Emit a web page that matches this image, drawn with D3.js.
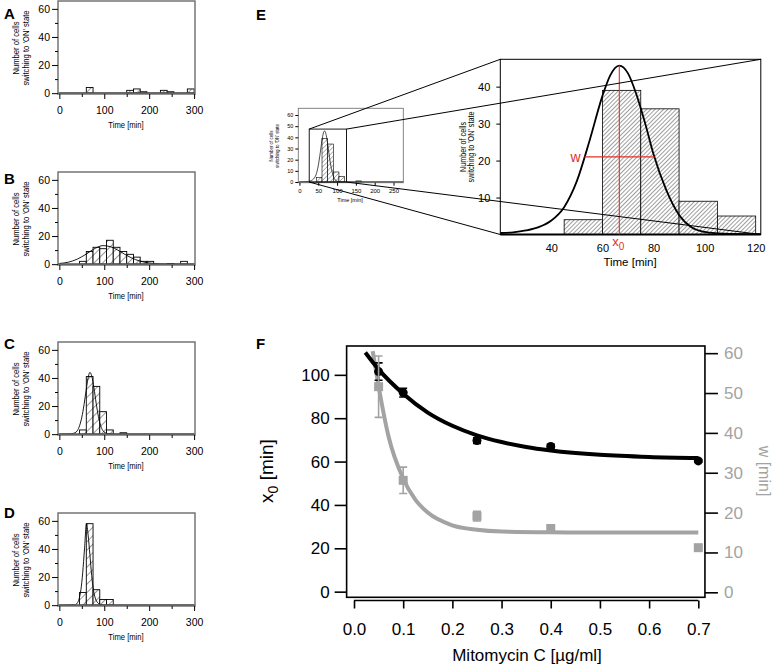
<!DOCTYPE html>
<html><head><meta charset="utf-8">
<script src="https://cdn.jsdelivr.net/npm/d3@7"></script>
<style>
body{margin:0;background:#fff}
svg{display:block}
text{font-family:"Liberation Sans",Arial,Helvetica,sans-serif}
</style>
</head><body>
<svg id="c" width="777" height="664"></svg>
<script>
// ---------------- DATA ----------------
const binWidth = 15;
const timeTicks = [0, 100, 200, 300];
const timeMinor = [50, 150, 250];
const countTicks = [0, 20, 40, 60];
const countMinor = [10, 30, 50];

const histStartA = [60, 150, 165, 180, 225, 240, 285];
const histCountA = [4, 2, 3, 1, 2, 1, 3];
const fitTimeA = [0, 300];
const fitCountA = [0, 0];

const histStartB = [45, 60, 75, 90, 105, 120, 135, 150, 165, 180, 195, 240, 270];
const histCountB = [2, 9, 12, 11, 17, 12, 9, 7, 5, 2, 2, 0.5, 2];
const fitTimeB = [0, 20, 40, 60, 80, 97, 115, 130, 150, 170, 190, 210, 240, 300];
const fitCountB = [0.5, 1.4, 3.6, 7.2, 11.3, 13.2, 12.3, 10.0, 6.2, 3.2, 1.4, 0.5, 0.1, 0];

const histStartC = [45, 60, 75, 90, 105, 135];
const histCountC = [3, 41, 34, 16, 3, 1];
const fitTimeC = [0, 25, 35, 40, 45, 50, 55, 60, 65, 68, 72, 77, 82, 87, 92, 97, 102, 110, 120, 300];
const fitCountC = [0, 0.2, 1.0, 2.5, 6, 12, 21, 32, 41.5, 44, 41.5, 33, 22, 12.5, 6, 2.5, 1, 0.3, 0, 0];

const histStartD = [45, 60, 75, 90, 105];
const histCountD = [9, 58, 11, 4, 4];
const fitTimeD = [0, 34, 40, 44, 48, 52, 56, 60.5, 64, 68, 72, 76, 80, 86, 92, 100, 300];
const fitCountD = [0, 0.3, 1.5, 4.5, 11, 23, 40, 58, 50, 36, 21, 10.5, 5, 1.5, 0.4, 0, 0];

const histStartE = [45, 60, 75, 90, 105, 150];
const histCountE = [4, 39, 34, 9, 5, 1];
const fitTimeE = [0, 20, 25, 30, 35, 40, 45, 50, 55, 60, 63, 66.6, 70, 73, 76.6, 80, 85, 90, 95, 100, 105, 110, 122, 160, 276];
const fitCountE = [0.1, 0.4, 0.6, 1.1, 2.0, 3.8, 7.4, 14.5, 25.5, 37.5, 43, 45.7, 43.6, 38.5, 30.4, 21.7, 12, 5.3, 1.9, 0.7, 0.3, 0.15, 0.1, 0.05, 0.05];
const peakE = [66.6, 45.7];        // x0 marker (time, count)
const widthE = [53, 80.4, 21];     // w marker (from, to, at count)
const eMainTicksX = [40, 60, 80, 100, 120];
const eMainTicksY = [10, 20, 30, 40];
const eInsetTicksX = [0, 50, 100, 150, 200, 250];
const eInsetTicksY = [0, 10, 20, 30, 40, 50, 60];

const mitoConc = [0.05, 0.1, 0.25, 0.4, 0.7];
const x0Mean = [101.5, 91.8, 69.7, 67.0, 60.3];
const x0Err = [4.0, 2.0, 1.3, 1.0, 0.6];
const wMean = [51.6, 28.1, 19.1, 16.0, 11.2];
const wErr = [7.7, 3.3, 1.2, 0.9, 0.5];
const x0FitConc = [0.023, 0.05, 0.1, 0.15, 0.2, 0.25, 0.3, 0.35, 0.4, 0.5, 0.6, 0.7];
const x0FitVal = [110.3, 102.5, 91.3, 82.6, 76.5, 72.1, 69.0, 66.7, 65.1, 63.1, 62.1, 61.6];
const wFitConc = [0.038, 0.05, 0.07, 0.1, 0.125, 0.15, 0.2, 0.25, 0.3, 0.4, 0.5, 0.7];
const wFitVal = [60.5, 51.7, 39.2, 28.5, 23.2, 20.0, 16.8, 15.7, 15.25, 15.05, 15.0, 15.0];
const concTicks = [0, 0.1, 0.2, 0.3, 0.4, 0.5, 0.6, 0.7];
const x0Ticks = [0, 20, 40, 60, 80, 100];
const wTicks = [0, 10, 20, 30, 40, 50, 60];

// ---------------- DRAW ----------------
const svg = d3.select("#c");
const FONT = '"Liberation Sans",Arial,Helvetica,sans-serif';
const RED = "#e0312b";
const GRAY = "#a3a3a3";

const defs = svg.append("defs");
function hatch(id, size, sw) {
  const p = defs.append("pattern").attr("id", id).attr("patternUnits", "userSpaceOnUse")
    .attr("width", size).attr("height", size).attr("patternTransform", "rotate(45)");
  p.append("rect").attr("width", size).attr("height", size).attr("fill", "#fff");
  p.append("line").attr("x1", 0).attr("y1", 0).attr("x2", 0).attr("y2", size)
    .attr("stroke", "#000").attr("stroke-width", sw);
}
hatch("hS", 6, 0.8);
hatch("hE", 3, 0.75);
hatch("hI", 3.2, 0.55);

function styleAxis(g, size, color) {
  g.select(".domain").remove();
  g.selectAll("text").attr("font-family", FONT).attr("font-size", size).attr("fill", color || "#000");
  g.selectAll("line").attr("stroke", color || "#000");
}

function histogram(g, x, y, starts, counts, fill, sw) {
  g.append("g").selectAll("rect").data(d3.zip(starts, counts)).join("rect")
    .attr("x", d => x(d[0])).attr("width", d => x(d[0] + binWidth) - x(d[0]))
    .attr("y", d => y(d[1])).attr("height", d => y(0) - y(d[1]))
    .attr("fill", fill).attr("stroke", "#000").attr("stroke-width", sw);
}
function fitLine(g, x, y, xs, ys, sw, color) {
  g.append("path").datum(d3.zip(xs, ys))
    .attr("d", d3.line().x(d => x(d[0])).y(d => y(d[1])).curve(d3.curveMonotoneX))
    .attr("fill", "none").attr("stroke", color || "#000").attr("stroke-width", sw);
}
function twoLineLabel(g, cx, cy, size, gap, sx) {
  const t = g.append("text").attr("transform", `translate(${cx},${cy}) rotate(-90) scale(${sx},1)`)
    .attr("text-anchor", "middle").attr("font-size", size);
  t.append("tspan").attr("x", 0).attr("y", 0).text("Number of cells");
  t.append("tspan").attr("x", 0).attr("y", gap).text("switching to 'ON' state");
}

// ---- Panels A-D ----
const small = [
  {lab: "A", top: 1, ly: 13, s: histStartA, c: histCountA, ft: fitTimeA, fc: fitCountA},
  {lab: "B", top: 172, ly: 178, s: histStartB, c: histCountB, ft: fitTimeB, fc: fitCountB},
  {lab: "C", top: 342, ly: 343, s: histStartC, c: histCountC, ft: fitTimeC, fc: fitCountC},
  {lab: "D", top: 513, ly: 512, s: histStartD, c: histCountD, ft: fitTimeD, fc: fitCountD}
];
small.forEach(p => {
  const g = svg.append("g");
  const x = d3.scaleLinear().domain([-3, 302]).range([58, 195]);
  const y = d3.scaleLinear().domain([-0.6, 65.6]).range([p.top + 93, p.top]);
  histogram(g, x, y, p.s, p.c, "url(#hS)", 0.9);
  fitLine(g, x, y, p.ft, p.fc, 0.9);
  g.append("line").attr("x1", 58).attr("x2", 195).attr("y1", y(0)).attr("y2", y(0))
    .attr("stroke", "#555").attr("stroke-width", 1.6);
  g.append("rect").attr("x", 58).attr("y", p.top).attr("width", 137).attr("height", 93)
    .attr("fill", "none").attr("stroke", "#6b6b6b").attr("stroke-width", 1.4);
  const ya = g.append("g").attr("transform", "translate(58,0)")
    .call(d3.axisLeft(y).tickValues(countTicks).tickSize(6).tickPadding(2));
  styleAxis(ya, 10.5);
  const ym = g.append("g").attr("transform", "translate(58,0)")
    .call(d3.axisLeft(y).tickValues(countMinor).tickSize(3).tickFormat(""));
  styleAxis(ym, 10.5);
  const xa = g.append("g").attr("transform", `translate(0,${p.top + 93})`)
    .call(d3.axisBottom(x).tickValues(timeTicks).tickSize(5).tickPadding(8));
  styleAxis(xa, 10.5);
  const xm = g.append("g").attr("transform", `translate(0,${p.top + 93})`)
    .call(d3.axisBottom(x).tickValues(timeMinor).tickSize(3).tickFormat(""));
  styleAxis(xm, 10.5);
  g.append("text").attr("transform", `translate(126,${p.top + 127}) scale(0.85,1)`).attr("text-anchor", "middle")
    .attr("font-size", 9).text("Time [min]");
  twoLineLabel(g, 19, p.top + 47, 9, 10.5, 0.85);
  g.append("text").attr("x", 4).attr("y", p.ly + 5.5).attr("font-size", 15)
    .attr("font-weight", "bold").text(p.lab);
});

// ---- Panel E ----
svg.append("text").attr("x", 256).attr("y", 19.5).attr("font-size", 15).attr("font-weight", "bold").text("E");
{
  const g = svg.append("g");
  // inset
  const xi = d3.scaleLinear().domain([-3, 276]).range([298.3, 403.3]);
  const yi = d3.scaleLinear().domain([-0.6, 66]).range([182.7, 108.3]);
  histogram(g, xi, yi, histStartE, histCountE, "url(#hI)", 0.6);
  fitLine(g, xi, yi, fitTimeE, fitCountE, 0.7);
  g.append("line").attr("x1", 298.3).attr("x2", 403.3).attr("y1", yi(0)).attr("y2", yi(0))
    .attr("stroke", "#444").attr("stroke-width", 1.2);
  g.append("rect").attr("x", 298.3).attr("y", 108.3).attr("width", 105).attr("height", 74.4)
    .attr("fill", "none").attr("stroke", "#777").attr("stroke-width", 0.9);
  const iya = g.append("g").attr("transform", "translate(298.3,0)")
    .call(d3.axisLeft(yi).tickValues(eInsetTicksY).tickSize(3).tickPadding(2));
  styleAxis(iya, 5.5);
  const ixa = g.append("g").attr("transform", "translate(0,182.7)")
    .call(d3.axisBottom(xi).tickValues(eInsetTicksX).tickSize(3).tickPadding(3));
  styleAxis(ixa, 6);
  g.append("text").attr("x", 350).attr("y", 202).attr("text-anchor", "middle").attr("font-size", 5.5).text("Time [min]");
  twoLineLabel(g, 273, 146, 5, 5.8, 0.9);

  // main zoom
  const xm = d3.scaleLinear().domain([20, 122]).range([500.3, 760.8]);
  const ym = d3.scaleLinear().domain([0, 47.4]).range([234.5, 59.3]);
  histogram(g, xm, ym, histStartE, histCountE, "url(#hE)", 0.8);
  fitLine(g, xm, ym, fitTimeE.filter(t => t >= 20 && t <= 122), fitCountE.filter((c, i) => fitTimeE[i] >= 20 && fitTimeE[i] <= 122), 1.8);
  g.append("line").attr("x1", 500.3).attr("x2", 760.8).attr("y1", 234.5).attr("y2", 234.5)
    .attr("stroke", "#000").attr("stroke-width", 1.8);
  g.append("rect").attr("x", 500.3).attr("y", 59.3).attr("width", 260.5).attr("height", 175.2)
    .attr("fill", "none").attr("stroke", "#000").attr("stroke-width", 1);
  const mya = g.append("g").attr("transform", "translate(500.3,0)")
    .call(d3.axisLeft(ym).tickValues(eMainTicksY).tickSize(4).tickPadding(6));
  styleAxis(mya, 11);
  const mxa = g.append("g").attr("transform", "translate(0,234.5)")
    .call(d3.axisBottom(xm).tickValues(eMainTicksX).tickSize(0).tickPadding(10));
  styleAxis(mxa, 11);
  g.append("text").attr("x", 630).attr("y", 266).attr("text-anchor", "middle").attr("font-size", 11.5).text("Time [min]");
  twoLineLabel(g, 466, 147, 8.5, 8, 0.85);

  // red markers
  g.append("line").attr("x1", xm(peakE[0])).attr("x2", xm(peakE[0])).attr("y1", ym(peakE[1])).attr("y2", ym(0))
    .attr("stroke", RED).attr("stroke-width", 1.1);
  g.append("line").attr("x1", xm(widthE[0])).attr("x2", xm(widthE[1])).attr("y1", ym(widthE[2])).attr("y2", ym(widthE[2]))
    .attr("stroke", RED).attr("stroke-width", 1.1);
  g.append("text").attr("x", xm(widthE[0]) - 4).attr("y", ym(widthE[2]) + 5).attr("text-anchor", "end")
    .attr("fill", RED).attr("font-size", 14).text("w");
  const xt = g.append("text").attr("x", xm(peakE[0]) - 1).attr("y", 246).attr("text-anchor", "middle")
    .attr("fill", RED).attr("font-size", 13);
  xt.append("tspan").text("x");
  xt.append("tspan").attr("dy", 4).attr("font-size", 10).text("0");

  // zoom box & connectors
  const bx0 = xi(26), bx1 = xi(125), by0 = yi(47.4), by1 = yi(0);
  g.append("rect").attr("x", bx0).attr("y", by0).attr("width", bx1 - bx0).attr("height", by1 - by0)
    .attr("fill", "none").attr("stroke", "#000").attr("stroke-width", 0.9);
  const conn = [[bx0, by0, 500.3, 59.3], [bx1, by0, 760.8, 59.3], [bx0, by1, 500.3, 234.5], [bx1, by1, 760.8, 234.5]];
  g.append("g").selectAll("line").data(conn).join("line")
    .attr("x1", d => d[0]).attr("y1", d => d[1]).attr("x2", d => d[2]).attr("y2", d => d[3])
    .attr("stroke", "#000").attr("stroke-width", 1);
}

// ---- Panel F ----
svg.append("text").attr("x", 256).attr("y", 349).attr("font-size", 15).attr("font-weight", "bold").text("F");
{
  const g = svg.append("g");
  const x = d3.scaleLinear().domain([0, 0.7]).range([354, 698.3]);
  const xL = x(-0.015), xR = x(0.7135);
  const yL = d3.scaleLinear().domain([-2.6, 113.3]).range([597.3, 346]);
  const yR = d3.scaleLinear().domain([-1.25, 61.8]).range([597.3, 346]);

  fitLine(g, x, yR, wFitConc, wFitVal, 4, GRAY);
  fitLine(g, x, yL, x0FitConc, x0FitVal, 4, "#000");

  // black error bars & dots
  const bd = d3.zip(mitoConc, x0Mean, x0Err);
  g.append("g").selectAll("path").data(bd).join("path")
    .attr("d", d => `M${x(d[0]) - 4},${yL(d[1] + d[2])}h8M${x(d[0])},${yL(d[1] + d[2])}V${yL(d[1] - d[2])}M${x(d[0]) - 4},${yL(d[1] - d[2])}h8`)
    .attr("stroke", "#000").attr("stroke-width", 1.6).attr("fill", "none");
  g.append("g").selectAll("circle").data(bd).join("circle")
    .attr("cx", d => x(d[0])).attr("cy", d => yL(d[1])).attr("r", 4.5).attr("fill", "#000");

  // gray error bars & squares
  const gd = d3.zip(mitoConc, wMean, wErr);
  g.append("g").selectAll("path").data(gd).join("path")
    .attr("d", d => `M${x(d[0]) - 4},${yR(d[1] + d[2])}h8M${x(d[0])},${yR(d[1] + d[2])}V${yR(d[1] - d[2])}M${x(d[0]) - 4},${yR(d[1] - d[2])}h8`)
    .attr("stroke", GRAY).attr("stroke-width", 1.6).attr("fill", "none");
  g.append("g").selectAll("rect").data(gd).join("rect")
    .attr("x", d => x(d[0]) - 4.5).attr("y", d => yR(d[1]) - 4.5).attr("width", 9).attr("height", 9).attr("fill", GRAY);

  g.append("rect").attr("x", xL).attr("y", 346).attr("width", xR - xL).attr("height", 251.3)
    .attr("fill", "none").attr("stroke", "#000").attr("stroke-width", 1.6);

  const la = g.append("g").attr("transform", `translate(${xL},0)`)
    .call(d3.axisLeft(yL).tickValues(x0Ticks).tickSize(12).tickPadding(5));
  styleAxis(la, 17);
  la.selectAll("line").attr("stroke-width", 1.6);
  const ra = g.append("g").attr("transform", `translate(${xR},0)`)
    .call(d3.axisRight(yR).tickValues(wTicks).tickSize(13).tickPadding(6));
  styleAxis(ra, 17, GRAY);
  ra.selectAll("line").attr("stroke", "#000").attr("stroke-width", 1.6);
  const xa = g.append("g").attr("transform", "translate(0,600.5)")
    .call(d3.axisBottom(x).tickValues(concTicks).tickSize(8).tickPadding(14).tickFormat(d3.format(".1f")));
  xa.select(".domain").attr("stroke", "#000").attr("stroke-width", 1.6).attr("d", `M${x(0)},0H${x(0.7)}`);
  xa.selectAll("text").attr("font-family", FONT).attr("font-size", 17).attr("fill", "#000");
  xa.selectAll("line").attr("stroke", "#000").attr("stroke-width", 1.6);

  g.append("text").attr("x", 527).attr("y", 661).attr("text-anchor", "middle").attr("font-size", 17)
    .text("Mitomycin C [µg/ml]");
  const lt = g.append("text").attr("transform", "translate(273,471) rotate(-90)")
    .attr("text-anchor", "middle").attr("font-size", 19);
  lt.append("tspan").text("x");
  lt.append("tspan").attr("dy", 5).attr("font-size", 14).text("0");
  lt.append("tspan").attr("dy", -5).text(" [min]");
  g.append("text").attr("transform", "translate(759,471) rotate(90)")
    .attr("text-anchor", "middle").attr("font-size", 16).attr("fill", GRAY).text("w [min]");
}
</script>
</body></html>
